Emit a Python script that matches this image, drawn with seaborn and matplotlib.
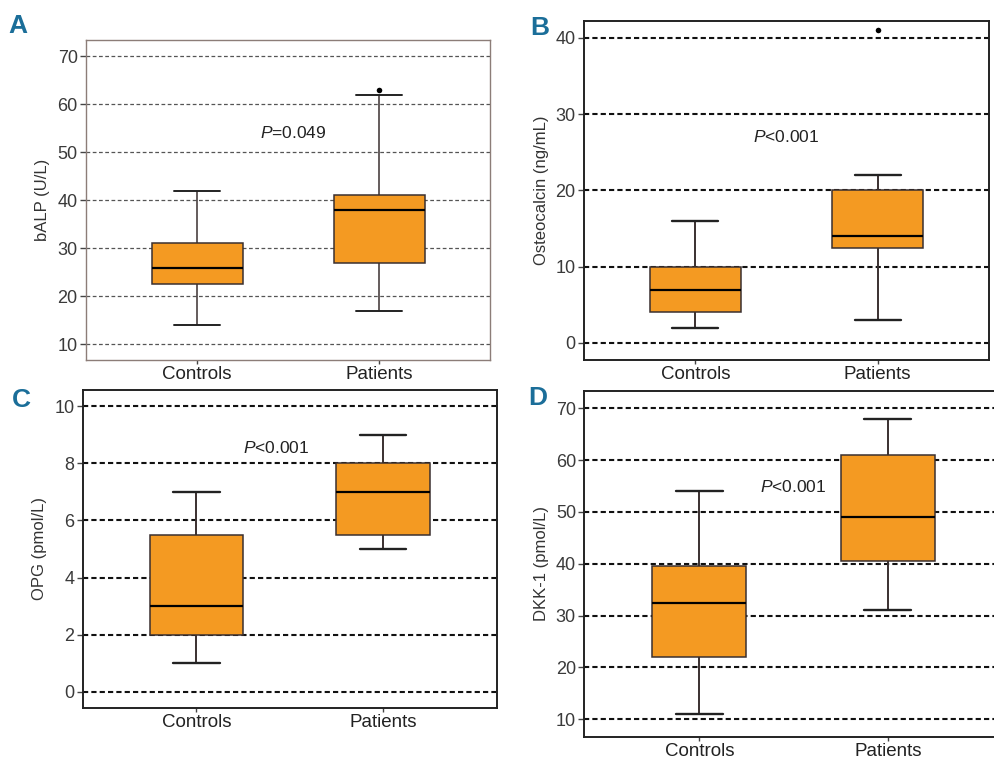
import numpy as np
import pandas as pd
import matplotlib.pyplot as plt
import seaborn as sns

groups = ["Controls", "Patients"]

# five-number summaries: lower whisker, Q1, median, Q3, upper whisker
balp_controls = [14, 22.5, 26, 31, 42]
balp_patients = [17, 27, 38, 41, 62]
balp_outliers = {"Patients": [63]}

ostc_controls = [2, 4, 7, 10, 16]
ostc_patients = [3, 12.5, 14, 20, 22]
ostc_outliers = {"Patients": [41]}

opg_controls = [1, 2, 3, 5.5, 7]
opg_patients = [5, 5.5, 7, 8, 9]

dkk_controls = [11, 22, 32.5, 39.5, 54]
dkk_patients = [31, 40.5, 49, 61, 68]

p_labels = ["=0.049", "<0.001", "<0.001", "<0.001"]

sns.set_style("white")
plt.rcParams['font.family'] = ['Liberation Sans', 'DejaVu Sans']
plt.rcParams['mathtext.fontset'] = 'custom'
plt.rcParams['mathtext.it'] = 'Liberation Sans:italic'
plt.rcParams['mathtext.rm'] = 'Liberation Sans'

box_color = "#F49A22"
letter_color = "#1B6E99"

panels = [
    dict(letter="A", ylabel="bALP (U/L)", controls=balp_controls, patients=balp_patients,
         outliers=balp_outliers, yticks=np.arange(10, 71, 10), ylim=(6.7, 73.3),
         ptext=p_labels[0], ppos=(0.53, 54), rect=[0.0865, 0.526, 0.4065, 0.421],
         frame="#8c7d78", frame_lw=1.0, grid="#555555", grid_lw=0.9, grid_ls=(0, (3, 2)),
         whisk_lw=1.1, letter_xy=(0.018, 0.966)),
    dict(letter="B", ylabel="Osteocalcin (ng/mL)", controls=ostc_controls, patients=ostc_patients,
         outliers=ostc_outliers, yticks=np.arange(0, 41, 10), ylim=(-2.27, 42.23),
         ptext=p_labels[1], ppos=(0.5, 27), rect=[0.5875, 0.526, 0.4075, 0.4466],
         frame="#222222", frame_lw=1.4, grid="#111111", grid_lw=1.5, grid_ls=(0, (2.5, 1.5)),
         whisk_lw=1.4, letter_xy=(0.543, 0.963)),
    dict(letter="C", ylabel="OPG (pmol/L)", controls=opg_controls, patients=opg_patients,
         outliers={}, yticks=np.arange(0, 11, 2), ylim=(-0.55, 10.56),
         ptext=p_labels[2], ppos=(0.43, 8.52), rect=[0.0832, 0.0688, 0.4165, 0.418],
         frame="#222222", frame_lw=1.4, grid="#111111", grid_lw=1.5, grid_ls=(0, (2.5, 1.5)),
         whisk_lw=1.4, letter_xy=(0.022, 0.474)),
    dict(letter="D", ylabel="DKK-1 (pmol/L)", controls=dkk_controls, patients=dkk_patients,
         outliers={}, yticks=np.arange(10, 71, 10), ylim=(6.64, 73.34),
         ptext=p_labels[3], ppos=(0.5, 54.9), rect=[0.5878, 0.0307, 0.4212, 0.4549],
         frame="#222222", frame_lw=1.4, grid="#111111", grid_lw=1.5, grid_ls=(0, (2.5, 1.5)),
         whisk_lw=1.4, letter_xy=(0.541, 0.476)),
]

fig = plt.figure(figsize=(9.94, 7.6), dpi=100)

for p in panels:
    ax = fig.add_axes(p["rect"])
    df = pd.DataFrame({
        "group": [groups[0]] * 5 + [groups[1]] * 5,
        "value": p["controls"] + p["patients"],
    })
    # whis=(0, 100) so the whiskers end at the read-off extremes
    sns.boxplot(data=df, x="group", y="value", order=groups, whis=(0, 100), width=0.5,
                color=box_color, saturation=1, linecolor="#3a3030", linewidth=1.1,
                medianprops=dict(color="black", linewidth=1.6),
                whiskerprops=dict(linewidth=p["whisk_lw"]),
                capprops=dict(linewidth=p["whisk_lw"] + 0.3, color="#222222"),
                showfliers=False, ax=ax)
    for grp, vals in p["outliers"].items():
        sns.stripplot(x=[grp] * len(vals), y=vals, order=groups, jitter=False,
                      color="black", size=4, ax=ax)

    ax.set_xlim(-0.61, 1.61)
    ax.set_ylim(*p["ylim"])
    ax.set_yticks(p["yticks"])
    ax.set_xlabel("")
    ax.set_ylabel(p["ylabel"], fontsize=12, color="#333333", labelpad=5)
    ax.set_axisbelow(True)
    ax.yaxis.grid(True, color=p["grid"], linewidth=p["grid_lw"], linestyle=p["grid_ls"])
    ax.xaxis.grid(False)
    for s in ax.spines.values():
        s.set_visible(True)
        s.set_color(p["frame"])
        s.set_linewidth(p["frame_lw"])
    ax.tick_params(axis="y", labelsize=13, labelcolor="#3a3a3a", length=4, width=1,
                   color="#444444", left=True, pad=2)
    ax.tick_params(axis="x", labelsize=13.5, labelcolor="#222222", length=3, width=1,
                   color="#444444", bottom=True, pad=1.5)
    ax.text(p["ppos"][0], p["ppos"][1], r"$\it{P}$" + p["ptext"], fontsize=12.5,
            color="#222222", ha="center", va="center")
    fig.text(p["letter_xy"][0], p["letter_xy"][1], p["letter"], fontsize=19,
             fontweight="bold", color=letter_color, ha="center", va="center")

fig.savefig("out.png", dpi=100)
